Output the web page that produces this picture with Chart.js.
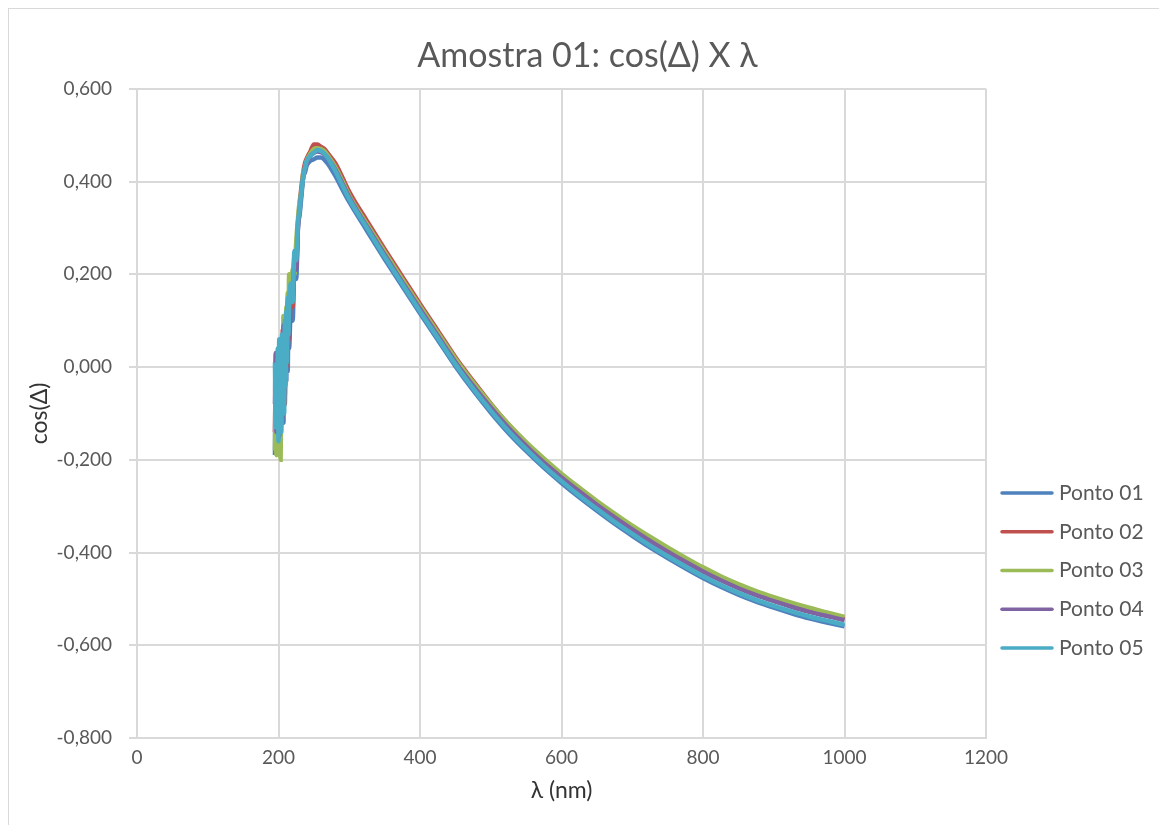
<!DOCTYPE html>
<html lang="pt">
<head>
<meta charset="utf-8">
<title>Amostra 01: cos(Δ) X λ</title>
<script src="https://cdn.jsdelivr.net/npm/chart.js@4.4.1/dist/chart.umd.min.js"></script>
<style>
  html, body { margin: 0; padding: 0; background: #fff; overflow: hidden; }
  #grafico { display: block; }
</style>
</head>
<body>
<canvas id="grafico" width="1159" height="825"></canvas>
<script>
// comprimento de onda (nm), comum a todas as séries
const lambdaNm = [
  195, 196, 197, 198, 199, 200, 201, 202, 203, 204, 205, 206, 207, 208, 209, 210,
  211, 212, 213, 214, 215, 217.5, 220, 222.5, 225, 227.5, 230, 232.5, 235, 237.5,
  240, 245, 250, 255, 260, 265, 270, 280, 290, 300,
  325, 350, 375, 400, 425, 450, 475, 500, 525, 550, 575, 600, 625, 650, 675, 700,
  725, 750, 775, 800, 825, 850, 875, 900, 925, 950, 975, 1000
];

// cos(Δ) de cada ponto medido
const ponto01 = [
  -0.19, 0.01, -0.12, -0.02, -0.17, 0.03, -0.10, -0.04, -0.15, 0.02, -0.08, 0.05, -0.12, 0.07, -0.06, 0.09,
  -0.03, 0.12, -0.01, 0.11, 0.04, 0.14, 0.10, 0.22, 0.19, 0.30, 0.33, 0.37, 0.41, 0.42,
  0.435, 0.445, 0.448, 0.452, 0.452, 0.447, 0.438, 0.413, 0.384, 0.356,
  0.294, 0.233, 0.174, 0.116, 0.059, 0.002, -0.050, -0.098, -0.142, -0.181, -0.217, -0.250, -0.281, -0.310, -0.338, -0.364,
  -0.389, -0.412, -0.434, -0.455, -0.474, -0.491, -0.506, -0.519, -0.531, -0.542, -0.551, -0.559
];
const ponto02 = [
  -0.14, -0.03, -0.16, 0.02, -0.09, -0.01, -0.13, 0.05, -0.05, 0.00, -0.11, 0.08, -0.02, 0.04, -0.08, 0.10,
  0.00, 0.08, 0.03, 0.13, 0.06, 0.16, 0.13, 0.24, 0.22, 0.31, 0.35, 0.39, 0.42, 0.44,
  0.450, 0.465, 0.480, 0.480, 0.475, 0.470, 0.460, 0.440, 0.410, 0.378,
  0.315, 0.254, 0.195, 0.136, 0.079, 0.021, -0.030, -0.079, -0.124, -0.164, -0.201, -0.235, -0.265, -0.294, -0.321, -0.347,
  -0.372, -0.395, -0.416, -0.437, -0.456, -0.473, -0.488, -0.501, -0.513, -0.524, -0.534, -0.543
];
const ponto03 = [
  -0.18, -0.06, -0.19, 0.01, -0.11, -0.03, -0.16, 0.04, -0.20, -0.02, 0.06, -0.07, 0.11, -0.04, 0.08, 0.00,
  0.13, 0.05, 0.16, 0.10, 0.20, 0.15, 0.21, 0.20, 0.27, 0.32, 0.36, 0.38, 0.42, 0.43,
  0.445, 0.460, 0.470, 0.472, 0.470, 0.465, 0.455, 0.432, 0.402, 0.370,
  0.308, 0.248, 0.189, 0.131, 0.074, 0.018, -0.033, -0.080, -0.123, -0.162, -0.197, -0.230, -0.260, -0.289, -0.316, -0.342,
  -0.366, -0.389, -0.411, -0.432, -0.451, -0.468, -0.483, -0.496, -0.508, -0.519, -0.529, -0.539
];
const ponto04 = [
  -0.08, 0.03, -0.14, 0.00, -0.06, 0.04, -0.15, -0.03, 0.06, -0.10, 0.01, -0.05, 0.09, -0.07, 0.05, -0.02,
  0.10, 0.02, 0.14, 0.06, 0.12, 0.17, 0.15, 0.23, 0.21, 0.30, 0.34, 0.38, 0.41, 0.43,
  0.440, 0.455, 0.462, 0.465, 0.463, 0.458, 0.450, 0.427, 0.397, 0.366,
  0.303, 0.242, 0.183, 0.125, 0.068, 0.011, -0.040, -0.087, -0.131, -0.170, -0.206, -0.238, -0.268, -0.297, -0.324, -0.350,
  -0.375, -0.398, -0.420, -0.441, -0.460, -0.477, -0.492, -0.505, -0.517, -0.528, -0.537, -0.546
];
const ponto05 = [
  0.01, -0.13, -0.02, -0.11, 0.04, -0.16, 0.06, -0.09, 0.00, -0.14, 0.07, -0.06, 0.03, -0.10, 0.10, -0.04,
  0.12, 0.01, 0.15, 0.07, 0.13, 0.18, 0.14, 0.25, 0.23, 0.31, 0.34, 0.38, 0.41, 0.43,
  0.445, 0.455, 0.462, 0.468, 0.466, 0.460, 0.450, 0.424, 0.393, 0.362,
  0.300, 0.238, 0.179, 0.120, 0.063, 0.006, -0.046, -0.094, -0.138, -0.177, -0.213, -0.246, -0.277, -0.306, -0.334, -0.360,
  -0.385, -0.408, -0.430, -0.451, -0.470, -0.487, -0.502, -0.515, -0.527, -0.538, -0.547, -0.556
];

const nomesSeries = ['Ponto 01', 'Ponto 02', 'Ponto 03', 'Ponto 04', 'Ponto 05'];
const coresSeries = ['#4F81BD', '#C0504D', '#9BBB59', '#8064A2', '#4BACC6'];
const valoresSeries = [ponto01, ponto02, ponto03, ponto04, ponto05];

// marcas dos eixos
const xTicks = [0, 200, 400, 600, 800, 1000, 1200];
const yTicks = [-0.8, -0.6, -0.4, -0.2, 0, 0.2, 0.4, 0.6];

const corTexto = '#595959';
const corGrade = '#d9d9d9';
Chart.defaults.font.family = 'Lato, "Open Sans", sans-serif';
Chart.defaults.color = corTexto;

// moldura clara do gráfico (como no Excel)
const moldura = {
  id: 'moldura',
  beforeDraw(chart) {
    const ctx = chart.ctx;
    ctx.save();
    ctx.fillStyle = '#fff';
    ctx.fillRect(0, 0, chart.width, chart.height);
    ctx.strokeStyle = corGrade;
    ctx.lineWidth = 1;
    ctx.strokeRect(8.5, 8.5, 1300, 1000);
    ctx.restore();
  }
};

// legenda à direita, com traços em vez de caixas
const legendaLateral = {
  id: 'legendaLateral',
  afterDraw(chart) {
    const ctx = chart.ctx;
    ctx.save();
    ctx.font = '21px Lato, "Open Sans", sans-serif';
    ctx.textBaseline = 'middle';
    ctx.textAlign = 'left';
    chart.data.datasets.forEach((ds, i) => {
      const y = 493 + i * 38.75;
      ctx.strokeStyle = ds.borderColor;
      ctx.lineWidth = 3.5;
      ctx.lineCap = 'round';
      ctx.beginPath();
      ctx.moveTo(1002, y);
      ctx.lineTo(1052, y);
      ctx.stroke();
      ctx.fillStyle = corTexto;
      ctx.fillText(ds.label, 1059, y);
    });
    ctx.restore();
  }
};

const datasets = valoresSeries.map((valores, i) => ({
  label: nomesSeries[i],
  data: lambdaNm.map((x, j) => ({ x: x, y: valores[j] })),
  borderColor: coresSeries[i],
  backgroundColor: coresSeries[i],
  borderWidth: 4.5,
  pointRadius: 0,
  showLine: true,
  cubicInterpolationMode: 'monotone',
  order: nomesSeries.length - i   // a última série fica por cima
}));

const ctx = document.getElementById('grafico').getContext('2d');
const grafico = new Chart(ctx, {
  type: 'scatter',
  data: { datasets: datasets },
  options: {
    responsive: false,
    animation: false,
    layout: { padding: { left: 16, right: 0, top: 0, bottom: 0 } },
    plugins: {
      legend: { display: false },
      tooltip: { enabled: false },
      title: {
        display: true,
        text: 'Amostra 01: cos(Δ) X λ',
        color: corTexto,
        font: { size: 34, weight: 'normal', lineHeight: 1.2 },
        padding: { top: 36, bottom: 12 }
      }
    },
    scales: {
      x: {
        type: 'linear',
        min: 0,
        max: 1200,
        afterBuildTicks: axis => { axis.ticks = xTicks.map(v => ({ value: v })); },
        afterFit: axis => { axis.height = 87; },
        ticks: {
          color: corTexto,
          font: { size: 19 },
          padding: 8,
          maxRotation: 0,
          callback: v => String(v)
        },
        grid: { color: corGrade, lineWidth: 2, drawTicks: false },
        border: { color: corGrade, width: 2 },
        title: {
          display: true,
          text: 'λ (nm)',
          color: '#333',
          font: { size: 23, lineHeight: 1.2 },
          padding: { top: 0, bottom: 21 }
        }
      },
      y: {
        type: 'linear',
        min: -0.8,
        max: 0.6,
        afterBuildTicks: axis => { axis.ticks = yTicks.map(v => ({ value: v })); },
        afterFit: axis => { axis.width = 121; },
        ticks: {
          color: corTexto,
          font: { size: 19 },
          padding: 17,
          callback: v => (Math.abs(v) < 1e-9 ? 0 : v).toFixed(3).replace('.', ',')
        },
        grid: { color: corGrade, lineWidth: 2, tickLength: 8 },
        border: { color: corGrade, width: 2 },
        title: {
          display: true,
          text: 'cos(Δ)',
          color: '#333',
          font: { size: 23, lineHeight: 1.2 },
          padding: { top: 10, bottom: 0 }
        }
      },
      // eixo vazio à direita: só reserva o espaço da legenda
      espacoLegenda: {
        type: 'linear',
        axis: 'y',
        position: 'right',
        min: -0.8,
        max: 0.6,
        afterFit: axis => { axis.width = 173; },
        ticks: { display: false },
        grid: { display: false, drawTicks: false },
        border: { display: false }
      }
    }
  },
  plugins: [moldura, legendaLateral]
});
</script>
</body>
</html>
